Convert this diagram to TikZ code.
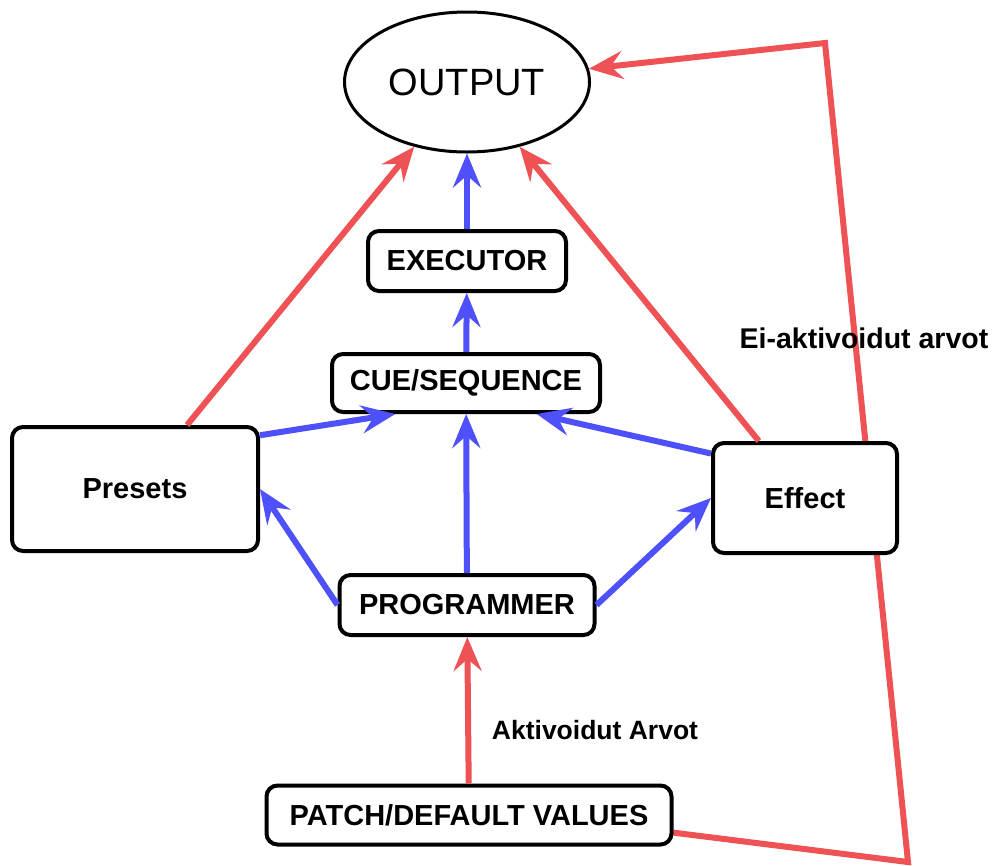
\documentclass[tikz,border=0pt]{standalone}
\usepackage{fontspec}
\setmainfont{Liberation Sans}
\usetikzlibrary{shapes.geometric,arrows.meta,calc,backgrounds}
\definecolor{lred}{RGB}{238,82,84}
\definecolor{lblue}{RGB}{78,80,250}
\tikzset{
  box/.style={draw=black,line width=4pt,fill=white,rounded corners=11pt,inner sep=0pt,
    font=\fontsize{29}{33}\selectfont\bfseries},
  lbl/.style={inner sep=0pt,font=\fontsize{28.5}{33}\selectfont\bfseries},
  tip/.style={-{Stealth[length=34pt,width=28pt,inset=12pt]}},
  redln/.style={draw=lred,line width=6pt,tip},
  blueln/.style={draw=lblue,line width=6pt,tip},
}
\begin{document}
\begin{tikzpicture}[x=1pt,y=-1pt]
\useasboundingbox (0,0) rectangle (993,865);
\node[ellipse,draw=black,line width=3pt,fill=white,minimum width=245pt,minimum height=140pt,inner sep=0pt,
  font=\fontsize{38}{42}\selectfont] (out) at (467,82) {OUTPUT};
\node[box,minimum width=198pt,minimum height=60pt] (exe) at (467,261) {EXECUTOR};
\node[box,minimum width=268pt,minimum height=58pt] (cue) at (466,383) {CUE/SEQUENCE};
\node[box,minimum width=246pt,minimum height=124pt] (pre) at (135,489) {Presets};
\node[box,minimum width=184pt,minimum height=110pt] (eff) at (805,498) {Effect};
\node[box,minimum width=255pt,minimum height=60pt] (prog) at (467,605) {PROGRAMMER};
\node[box,minimum width=405pt,minimum height=59pt] (patch) at (469,815) {PATCH/DEFAULT VALUES};
\node[lbl] (ei) at (864,338) {Ei-aktivoidut arvot};
\node[lbl,font=\fontsize{26.5}{31}\selectfont\bfseries] (ak) at (595,730) {Aktivoidut Arvot};
\coordinate (c1) at (908,862);
\coordinate (c2) at (825,43);
\begin{scope}[on background layer]
  \draw[redln,line join=miter] ($(patch.north east)!0.78!(patch.south east)$) -- (c1) -- (c2) -- (out);
\end{scope}
\draw[redln] (pre) -- (out);
\draw[redln] (eff) -- (out);
\draw[blueln] (exe) -- (out);
\draw[blueln] (cue) -- (exe);
\draw[blueln] ($(pre.north east)!0.08!(pre.south east)$) -- ($(cue.south west)!0.24!(cue.south east)$);
\draw[blueln] ($(eff.north west)!0.11!(eff.south west)$) -- ($(cue.south west)!0.76!(cue.south east)$);
\draw[blueln] (prog) -- (cue);
\draw[blueln] (prog.west) -- (pre.east);
\draw[blueln] (prog.east) -- (eff.west);
\draw[redln] (patch) -- (prog);
\end{tikzpicture}
\end{document}
